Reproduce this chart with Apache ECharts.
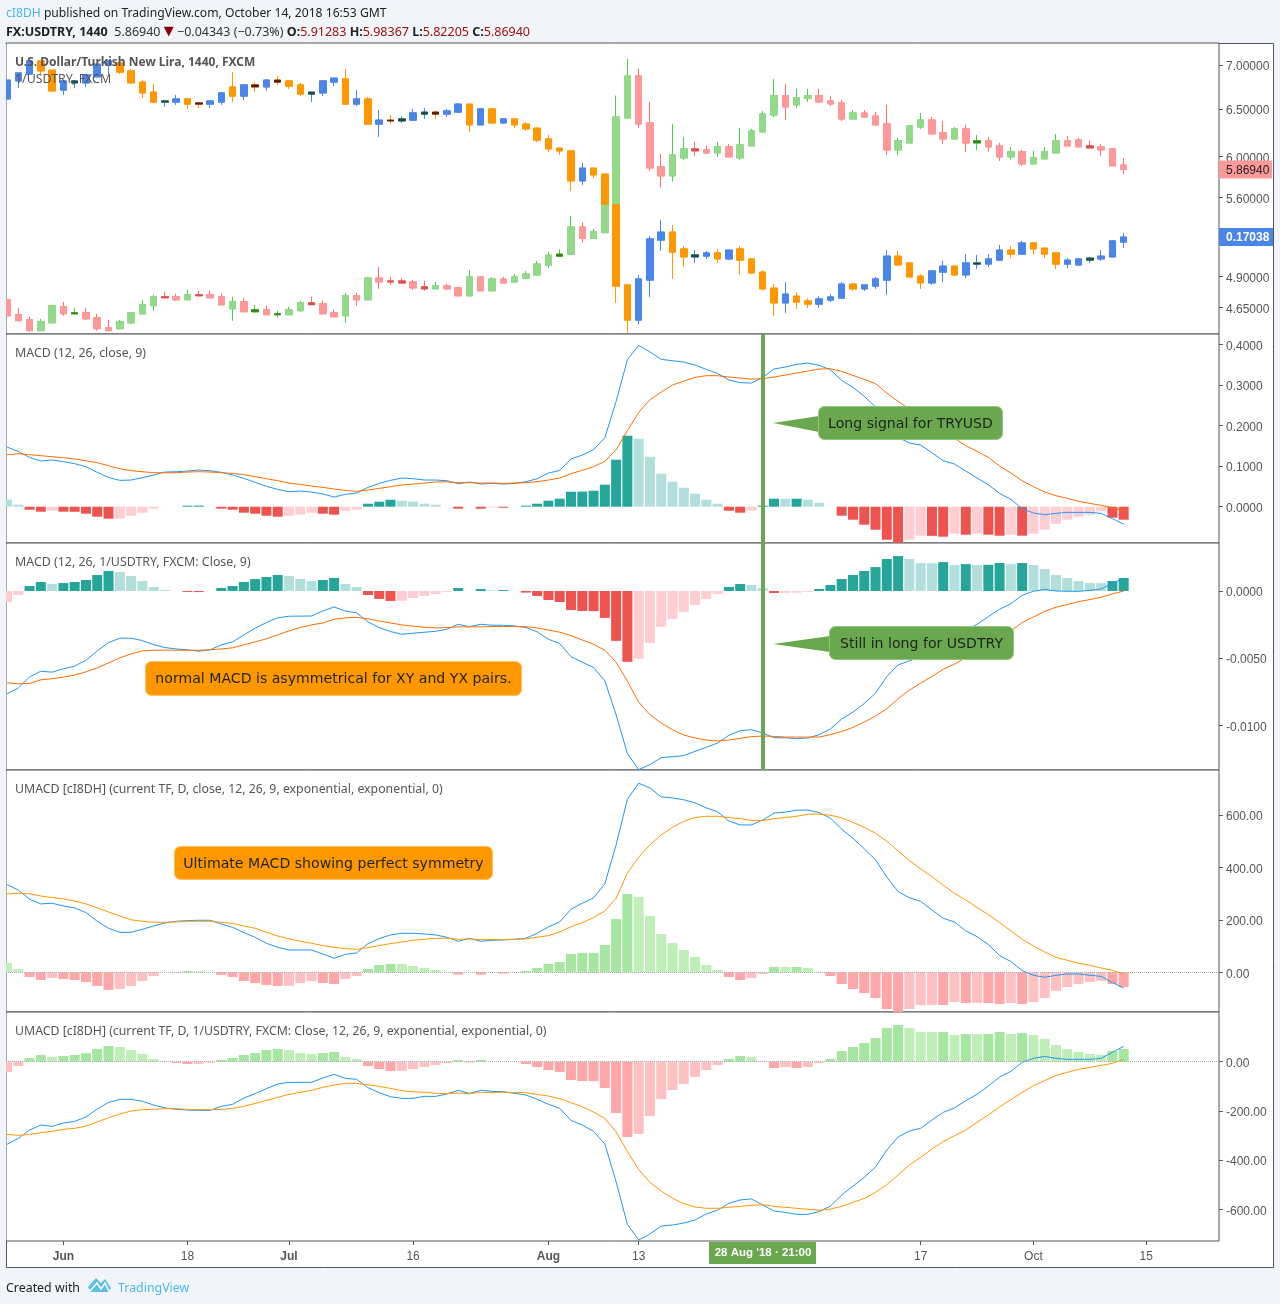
<!DOCTYPE html>
<html><head><meta charset="utf-8">
<script src="https://cdn.jsdelivr.net/npm/echarts@6/dist/echarts.min.js"></script>
<style>html,body{margin:0;padding:0;background:#F1F4F8}#c{width:1280px;height:1304px}</style>
</head><body><div id="c"></div>
<script>
const tickIndex=[5,16,25,36,48,56,81,91,101];
const tickLabels=['Jun','18','Jul','16','Aug','13','17','Oct','15'];
const crosshairIndex=67;
const crosshairLabel="28 Aug '18 · 21:00";

const usdOpen=[4.711,4.594,4.555,4.472,4.532,4.656,4.601,4.609,4.571,4.495,4.487,4.532,4.601,4.664,4.735,4.735,4.711,4.751,4.751,4.735,4.640,4.695,4.617,4.632,4.594,4.594,4.625,4.687,4.680,4.609,4.586,4.743,4.711,4.887,4.863,4.863,4.855,4.815,4.799,4.823,4.807,4.743,4.896,4.783,4.879,4.855,4.887,4.912,4.995,5.071,5.088,5.326,5.225,5.276,5.538,6.401,6.871,6.348,5.895,5.806,5.985,6.076,6.066,6.035,6.097,5.985,6.107,6.253,6.434,6.648,6.544,6.615,6.648,6.588,6.566,6.391,6.455,6.423,6.337,6.066,6.138,6.305,6.380,6.242,6.179,6.284,6.138,6.159,6.107,5.995,6.046,5.925,5.975,6.035,6.159,6.169,6.107,6.097,6.076,5.91283];
const usdClose=[4.586,4.548,4.472,4.540,4.664,4.601,4.609,4.563,4.487,4.472,4.540,4.609,4.672,4.735,4.727,4.711,4.751,4.743,4.727,4.672,4.695,4.617,4.632,4.594,4.601,4.632,4.687,4.672,4.601,4.578,4.743,4.711,4.887,4.855,4.855,4.847,4.807,4.799,4.823,4.799,4.743,4.896,4.783,4.879,4.847,4.896,4.920,5.004,5.080,5.088,5.326,5.225,5.285,5.547,6.412,6.871,6.337,5.885,5.806,6.015,6.076,6.056,6.035,6.097,5.995,6.117,6.263,6.444,6.648,6.522,6.626,6.648,6.577,6.555,6.391,6.455,6.412,6.327,6.066,6.159,6.316,6.380,6.232,6.179,6.284,6.138,6.159,6.097,5.995,6.046,5.925,5.985,6.046,6.159,6.107,6.097,6.086,6.066,5.905,5.8694];
const usdLow=[4.586,4.548,4.465,4.472,4.532,4.586,4.601,4.555,4.472,4.472,4.480,4.525,4.594,4.625,4.727,4.703,4.711,4.743,4.727,4.672,4.548,4.617,4.609,4.594,4.571,4.594,4.617,4.672,4.601,4.578,4.532,4.664,4.711,4.799,4.831,4.839,4.791,4.783,4.799,4.791,4.743,4.743,4.783,4.783,4.847,4.855,4.879,4.912,4.970,5.071,5.088,5.19,5.225,5.268,5.538,6.401,6.295,5.855,5.692,5.749,5.965,6.005,6.025,5.995,5.995,5.965,6.107,6.242,6.412,6.380,6.511,6.577,6.566,6.533,6.369,6.391,6.412,6.327,6.015,6.015,6.138,6.284,6.232,6.128,6.179,6.046,6.066,6.046,5.955,5.965,5.905,5.925,5.975,6.035,6.107,6.097,6.086,6.005,5.905,5.82205];
const usdHigh=[4.711,4.648,4.578,4.563,4.672,4.695,4.648,4.648,4.601,4.555,4.555,4.609,4.711,4.751,4.775,4.759,4.791,4.783,4.783,4.759,4.735,4.727,4.672,4.664,4.625,4.656,4.703,4.735,4.703,4.632,4.767,4.767,4.896,4.978,4.896,4.887,4.871,4.863,4.855,4.839,4.807,4.953,4.904,4.896,4.896,4.920,4.945,5.030,5.105,5.130,5.426,5.37,5.31,5.547,6.648,7.071,6.953,6.577,6.025,6.337,6.200,6.148,6.107,6.148,6.128,6.295,6.284,6.477,6.837,6.780,6.724,6.724,6.724,6.637,6.599,6.488,6.488,6.466,6.544,6.190,6.327,6.455,6.412,6.369,6.305,6.327,6.221,6.200,6.138,6.097,6.066,6.056,6.097,6.232,6.211,6.190,6.159,6.128,6.086,5.98367];

const tryOpen=[.2049,.2094,.2111,.2144,.2121,.2071,.2089,.2089,.2104,.2134,.2139,.2119,.2091,.2066,.2041,.2041,.2049,.2039,.2036,.2041,.2079,.2056,.2084,.2079,.2096,.2094,.2084,.2061,.2064,.2091,.2099,.2036,.2049,.1986,.1996,.1994,.1996,.2011,.2016,.2011,.2016,.2036,.1984,.2024,.1989,.1999,.1986,.1976,.1949,.1926,.1919,.1844,.1876,.1861,.1784,.1584,.1496,.1596,.1696,.1716,.1674,.1654,.1656,.1664,.1649,.1674,.1649,.1616,.1576,.1539,.1556,.1544,.1536,.1546,.1551,.1586,.1574,.1581,.1596,.1656,.1639,.1606,.1589,.1616,.1631,.1609,.1636,.1636,.1646,.1671,.1661,.1689,.1676,.1664,.1636,.1634,.1646,.1649,.1654,.1691];
const tryClose=[.2096,.2114,.2144,.2119,.2069,.2094,.2094,.2109,.2136,.2144,.2116,.2089,.2064,.2041,.2044,.2049,.2036,.2036,.2044,.2064,.2056,.2084,.2079,.2096,.2091,.2081,.2061,.2066,.2094,.2101,.2036,.2049,.1986,.1996,.1994,.1999,.2014,.2016,.2011,.2019,.2036,.1984,.2024,.1989,.1999,.1984,.1974,.1946,.1924,.1919,.1844,.1876,.1859,.1786,.1581,.1496,.1599,.1699,.1716,.1666,.1654,.1659,.1664,.1649,.1671,.1646,.1614,.1574,.1539,.1561,.1541,.1536,.1549,.1554,.1586,.1574,.1584,.1599,.1656,.1634,.1604,.1589,.1619,.1631,.1609,.1639,.1639,.1649,.1671,.1661,.1689,.1674,.1661,.1636,.1646,.1649,.1651,.1656,.1694,.17038];
const tryLow=[.2049,.2076,.2111,.2111,.2066,.2059,.2076,.2079,.2104,.2111,.2111,.2089,.2051,.2039,.2029,.2034,.2024,.2026,.2026,.2034,.2041,.2046,.2066,.2069,.2084,.2074,.2056,.2041,.2056,.2081,.2034,.2031,.1986,.1954,.1986,.1989,.1994,.1999,.1999,.2004,.2016,.1966,.1984,.1986,.1986,.1976,.1969,.1941,.1916,.1909,.1819,.1834,.1851,.1786,.1539,.1464,.1486,.1554,.1669,.1599,.1629,.1639,.1649,.1639,.1646,.1609,.1611,.1571,.1506,.1514,.1524,.1526,.1526,.1541,.1549,.1569,.1569,.1574,.1559,.1631,.1601,.1574,.1584,.1591,.1606,.1601,.1624,.1629,.1644,.1651,.1659,.1659,.1651,.1624,.1626,.1631,.1639,.1644,.1654,.1676];
const tryHigh=[.2096,.2114,.2144,.2144,.2121,.2094,.2096,.2109,.2136,.2144,.2139,.2124,.2096,.2086,.2044,.2059,.2051,.2041,.2044,.2066,.2116,.2086,.2091,.2099,.2106,.2094,.2089,.2066,.2096,.2101,.2124,.2071,.2054,.2021,.2009,.2006,.2024,.2026,.2019,.2024,.2039,.2036,.2026,.2026,.1999,.1999,.1991,.1976,.1959,.1926,.1919,.1889,.1876,.1861,.1784,.1584,.1609,.1706,.1746,.1734,.1681,.1671,.1669,.1674,.1671,.1681,.1649,.1621,.1586,.1591,.1566,.1551,.1556,.1561,.1591,.1589,.1584,.1604,.1671,.1669,.1639,.1611,.1621,.1644,.1631,.1661,.1659,.1661,.1684,.1681,.1694,.1689,.1676,.1664,.1651,.1649,.1654,.1671,.1696,.1714];

const macdHist=[.0172,.0049,-.0074,-.0123,-.0099,-.0123,-.0125,-.0172,-.0246,-.0296,-.0290,-.0222,-.0148,-.0049,0,0,.0025,.0027,0,-.0049,-.0074,-.0148,-.0172,-.0222,-.0246,-.0222,-.0197,-.0148,-.0172,-.0197,-.0099,-.0074,.0074,.0123,.0172,.0148,.0123,.0074,.0049,0,-.0049,0,-.0049,-.0016,-.0025,0,.0025,.0074,.0148,.0197,.0369,.0372,.0394,.0542,.1158,.1749,.1675,.1232,.0813,.0616,.0468,.0320,.0172,.0074,-.0099,-.0148,-.0099,.0025,.0197,.0195,.0197,.0172,.0099,0,-.0222,-.0320,-.0443,-.0567,-.0813,-.0887,-.0813,-.0714,-.0718,-.0739,-.0665,-.0690,-.0665,-.0690,-.0714,-.0690,-.0714,-.0665,-.0567,-.0419,-.0320,-.0246,-.0197,-.0115,-.0271,-.0320];
const macdLine=[.147,.136,.1215,.1125,.115,.111,.106,.0985,.0846,.0722,.0649,.0657,.0714,.078,.0854,.0862,.0878,.0903,.0887,.0846,.078,.0698,.0599,.0501,.0427,.0369,.0386,.0361,.0312,.0238,.0304,.0337,.0476,.0575,.0649,.0706,.069,.0657,.0657,.064,.0567,.0608,.0558,.0575,.0558,.0575,.0616,.069,.0829,.0895,.1174,.1273,.1404,.170,.2594,.3621,.3974,.381,.3629,.3596,.3563,.3489,.3383,.3284,.312,.3054,.3046,.3186,.3391,.344,.3506,.3539,.3481,.3374,.3112,.2939,.2718,.2455,.2085,.1708,.1568,.1519,.133,.1133,.1051,.0878,.0706,.0542,.0328,.0181,-.0049,-.0156,-.0197,-.0164,-.014,-.014,-.014,-.0164,-.0296,-.0427];
const macdSignal=[.1281,.1305,.1281,.1256,.1232,.1207,.1174,.1133,.1084,.101,.0936,.0887,.0862,.0837,.0837,.0837,.0854,.0862,.0854,.0837,.0821,.0788,.0739,.069,.064,.0583,.055,.0509,.0476,.0435,.0402,.0378,.0411,.0452,.0493,.0534,.0558,.0583,.0608,.0616,.0591,.0591,.0583,.0583,.0575,.0583,.0591,.0616,.0657,.0706,.0813,.0895,.0985,.1117,.1404,.1872,.2323,.2635,.2824,.2997,.3095,.3186,.3227,.3227,.3194,.3169,.3144,.3153,.3194,.3243,.3292,.3342,.3391,.3399,.3333,.3235,.3136,.303,.28,.2594,.2406,.2225,.2053,.1872,.1691,.1502,.1363,.1215,.1002,.0829,.064,.0493,.0361,.0271,.0205,.0131,.0082,.0033,-.0025,-.0099];

const invHist=[-.00082,-.0003,.00037,.00067,.00052,.00059,.00067,.00082,.00119,.00149,.00141,.00111,.00074,.0003,.00007,0,-.00007,-.00008,0,.00022,.00037,.00067,.00089,.00104,.00119,.00111,.00089,.00074,.00082,.00097,.00052,.0003,-.0003,-.00059,-.00074,-.00073,-.00052,-.00037,-.00022,-.00007,.00022,0,.00015,.00005,.00007,0,-.00012,-.00037,-.00067,-.00082,-.00141,-.00149,-.0015,-.002,-.00371,-.00527,-.00505,-.00386,-.00267,-.00208,-.00156,-.00104,-.00059,-.00022,.0003,.00052,.00045,.00022,-.00015,-.00014,-.00013,-.00007,.00015,.00045,.00089,.00119,.00149,.00178,.00238,.0026,.00238,.00208,.00207,.00215,.00193,.002,.00193,.00195,.00208,.002,.00208,.00193,.00163,.00119,.00097,.00074,.00059,.00058,.00074,.00097];
const invLine=[-.00765,-.00723,-.00639,-.00597,-.00604,-.00579,-.00559,-.00515,-.00446,-.00384,-.00351,-.00351,-.00369,-.00399,-.00421,-.00431,-.00438,-.00448,-.00438,-.00401,-.00379,-.00327,-.00277,-.00235,-.002,-.00188,-.00187,-.00186,-.00149,-.00119,-.00149,-.00163,-.0023,-.00272,-.00302,-.00322,-.00314,-.00307,-.003,-.00285,-.00248,-.00265,-.00248,-.00255,-.00255,-.0026,-.00272,-.00304,-.00359,-.00391,-.00488,-.0053,-.00569,-.00668,-.00921,-.0121,-.01329,-.01292,-.0124,-.01233,-.01225,-.01193,-.01163,-.01131,-.01074,-.0104,-.01032,-.01057,-.01092,-.01092,-.01099,-.01094,-.01069,-.01027,-.00953,-.00901,-.00837,-.0076,-.00636,-.0055,-.0052,-.00488,-.00438,-.00389,-.00339,-.00295,-.00248,-.00191,-.00136,-.00094,-.00032,-.00002,.00012,0,-.00002,-.00003,.00005,.00015,.00057,.00094];
const invSignal=[-.00683,-.00691,-.00688,-.00661,-.00653,-.00641,-.00626,-.00601,-.00572,-.00535,-.00498,-.00468,-.00446,-.00441,-.0044,-.00441,-.00441,-.00441,-.00438,-.00431,-.00423,-.00401,-.00379,-.00356,-.00327,-.00297,-.00272,-.00252,-.00238,-.0021,-.002,-.00196,-.00208,-.00223,-.00238,-.00252,-.00262,-.0027,-.00275,-.00272,-.00267,-.00267,-.00267,-.00265,-.00264,-.00265,-.00265,-.00275,-.0029,-.00307,-.00332,-.00364,-.00396,-.00441,-.0053,-.00671,-.00827,-.00921,-.00983,-.01032,-.01072,-.01094,-.01109,-.01116,-.01109,-.01097,-.01084,-.01079,-.01082,-.01087,-.01087,-.01087,-.01087,-.01069,-.01045,-.01015,-.00975,-.00931,-.00876,-.00802,-.00738,-.00686,-.00636,-.00582,-.00545,-.00495,-.00446,-.00396,-.00347,-.00297,-.00235,-.00193,-.00151,-.00121,-.00101,-.00079,-.00064,-.00047,-.00022,0];

const umacdHist=[35.6,12.7,-17.8,-29.3,-21.6,-25.4,-29.3,-36.9,-52,-67,-63.6,-52.2,-33,-14,-1,1.5,5,4.5,1.3,-10,-17.8,-33,-40.7,-48,-52,-51.5,-40.7,-33,-40.7,-44.5,-25.4,-14,12.7,28,31.8,31.5,24,16.5,9,1.3,-9,.5,-9,0,-5,.3,5,16.5,31.8,39.4,70,73.8,74,104,203.5,299,287.5,215,146,112,85,58.5,28,8.9,-17.8,-29.3,-21.6,-6.4,20.4,20.2,20.4,16.5,1.3,-14,-44.5,-63.6,-78.9,-98,-140,-151,-140,-124.7,-124.5,-124.7,-113,-117,-116.8,-117,-120.8,-117,-120.8,-113,-98,-71,-56,-44.5,-37,-33,-44.5,-56];
const umacdLine=[334.5,314,278.6,260.8,263.3,253,245.5,227.7,194.6,167.9,152.6,152.6,164,176.8,188.3,194.6,197.2,198.4,198.4,184.4,171.7,151.4,133.6,110.7,95.4,85.2,85.2,85.2,70,53.4,68.7,73.8,109.4,128.5,142.5,148.8,148.8,146.3,142.5,133.6,118.3,129.7,118.3,122.1,123.4,125.9,129.7,148.8,173,192,240.4,263.3,283.7,337,486,660,721,703,669,665,658,646,627,612,577,562,562,581,607,611,618,619,609,588,546,511,471,429,363,308,284,271,238,206,192,158,136,106,64,41,6.4,-11.4,-19,-11.4,-6.4,-6.4,-11.4,-15.3,-39.4,-59.8];
const umacdSignal=[299,301.5,299,291,285,280,272,261,245.5,230,215,200,194.6,190.8,190.8,192,194.6,194.6,194.6,190.8,185.7,176.8,167.9,152.6,138.6,127.2,118.3,110.7,101.8,95.4,90.3,87.8,94.1,101.8,109.4,115.8,122.1,125.9,129.7,129.7,125.9,127.2,124.7,124.7,124.7,125.9,127.2,133.6,140,153.9,174,189.5,208.6,234,282,378,439,486,524,553,576,590,595,595,590,586,579,579,586,590,595,603,603,599,589,572,553,530,500,463,426,394,365,332,301,276,247,220,189.5,158,126,100.5,77.6,57,45.8,34.3,26.7,16.5,7.6,-6.4];

const uinvHist=[-42,-17.6,14.9,27,19,23,27.1,35,51.5,63.7,59.6,47.4,31.2,10.8,1,-5,-9.5,-9,-4.5,6.8,14.9,27.1,35.2,47.4,51.5,47.4,35.2,31.2,35.2,39.3,19,10.8,-17.6,-29.8,-37.9,-37.5,-29.8,-21.7,-13.6,-5.4,6.8,-3,6.8,0,0,0,-9.5,-21.7,-33.9,-42,-74.5,-78.6,-79,-107,-208.7,-306,-294,-221,-152,-115,-91,-62,-34,-13.6,10.8,23,19,-1,-25.7,-21.7,-25.7,-21.7,-5.4,10.8,43.4,59.6,75.9,96.2,136.9,149,136.9,120.6,120.4,120.6,108.4,112.5,112.3,112.5,120.6,112.5,116.5,108.4,92.1,67.8,51.5,39.3,31.2,27.1,43.4,51.5];
const uinvLine=[-336,-311.7,-277.8,-257.5,-262.9,-249.3,-242.5,-225,-192.4,-165.3,-153,-153,-161,-176,-188,-193.8,-196.5,-197.8,-197.8,-181.6,-173.4,-147.7,-130,-109.8,-90.8,-84,-84,-84,-66.4,-51.5,-67.8,-71.8,-105.7,-126,-142.3,-149,-149,-141,-141,-131.4,-116.5,-128.7,-116.5,-120.6,-122,-128.7,-135.5,-153,-173.4,-189.7,-238.5,-257.5,-283.2,-334.7,-487.8,-661,-725,-700.5,-668,-664,-655.8,-643.6,-619,-603,-576,-562,-558,-582.7,-607,-612.5,-620.6,-620.6,-609.8,-586.7,-542,-505.4,-470,-428,-359,-306,-281.8,-271,-237,-206,-188,-158.5,-132.8,-99,-62.3,-39.3,-2.7,13.6,21.7,13.6,9.5,9.5,9.5,13.6,38,62.3];
const uinvSignal=[-295.4,-299.5,-295.4,-288.6,-283.2,-275,-271,-261.5,-245.3,-227.6,-212.7,-200.5,-195,-193.8,-191,-191,-193.8,-195,-195,-193.8,-189.7,-181.6,-169.4,-157.2,-145,-132.8,-124.7,-116.5,-104.3,-94.9,-88,-88,-93.5,-100.3,-108.4,-117.9,-122,-124.7,-128.7,-130,-127.4,-130,-124.7,-124.7,-124.7,-124.7,-126,-132.8,-139.6,-150.5,-166.7,-183,-204.6,-230.4,-284.6,-365.9,-437.7,-490.5,-525.7,-555.6,-577,-590.8,-596,-596,-592,-588,-584,-581.3,-588,-592,-596,-600,-604,-599,-588,-572,-555.6,-531,-500,-460.7,-420,-389,-355,-325,-301,-278,-246.6,-216.8,-183,-154.5,-124.7,-97.6,-77.2,-55.6,-43.4,-31.2,-23,-14.9,-6.8,9.5];

const usdTicks=[7,6.5,6,5.6,4.9,4.65];
const macdTicks=[.4,.3,.2,.1,0];
const invTicks=[0,-.005,-.01];
const umacdTicks=[600,400,200,0];
const uinvTicks=[0,-200,-400,-600];

const GREY='#555', BG='#F1F4F8', LABEL='"Liberation Sans",Arial,sans-serif', UI='"Noto Sans",sans-serif', NOTE='"DejaVu Sans",sans-serif';
const panes=[[43,291],[334,209],[543,227],[770,242],[1012,229]];
const chart=echarts.init(document.getElementById('c'));

const grids=panes.map(p=>({left:6,width:1213,top:p[0],height:p[1],show:true,backgroundColor:'#fff',borderColor:GREY,borderWidth:1}));
const xAxes=panes.map((p,k)=>({type:'value',gridIndex:k,min:-.0887,max:107.45,show:k===4,splitLine:{show:false},axisLine:{show:false,onZero:false},
  axisTick:{show:k===4,length:4,lineStyle:{color:GREY},customValues:tickIndex},
  axisLabel:{show:k===4,customValues:tickIndex,margin:10,fontFamily:LABEL,fontSize:12,color:GREY,
    formatter:v=>{const s=tickLabels[tickIndex.indexOf(v)];return /^[JA]/.test(s)?'{b|'+s+'}':s;},
    rich:{b:{fontFamily:LABEL,fontSize:12,fontWeight:'bold',color:GREY}}}}));
function yAx(grid,min,max,ticks,digits,extra){return Object.assign({type:'value',gridIndex:grid,position:'right',min,max,scale:true,splitLine:{show:false},axisLine:{show:false,onZero:false},
  axisTick:{show:true,length:4,lineStyle:{color:GREY},customValues:ticks},
  axisLabel:{customValues:ticks,margin:7,fontFamily:LABEL,fontSize:12,color:GREY,formatter:v=>'{v|'+v.toFixed(digits)+'}',
    rich:{v:{fontFamily:LABEL,fontSize:12,color:GREY,padding:[4,0,0,0]}}}},extra||{});}
const yAxes=[
  yAx(0,4.447,7.264,usdTicks,5,{type:'log',logBase:Math.E}),
  {type:'value',gridIndex:0,min:.14613,max:.21888,show:false,scale:true,splitLine:{show:false}},
  yAx(1,-.0894,.4254,macdTicks,4),
  yAx(2,-.01332,.003571,invTicks,4),
  yAx(3,-151.4,771.5,umacdTicks,2),
  yAx(4,-728.9,202,uinvTicks,2)
];

function candles(name,o,c,l,h,yi,upBody,dnBody,upWick,dnWick,thinAt,thinUp,thinDn){
  const sty=(up,dn)=>({color:up,color0:dn,borderColor:up,borderColor0:dn,borderWidth:1});
  const wicks={name:name,type:'candlestick',xAxisIndex:0,yAxisIndex:yi,barWidth:7,clip:true,animation:false,silent:true,itemStyle:sty(upWick,dnWick),
    encode:{x:0,y:[1,2,3,4]},data:o.map((v,i)=>[i,v,c[i],l[i],h[i]])};
  const bodies={name:name+' body',type:'candlestick',xAxisIndex:0,yAxisIndex:yi,barWidth:7,clip:true,animation:false,silent:true,itemStyle:sty(upBody,dnBody),
    encode:{x:0,y:[1,2,3,4]},data:o.map((v,i)=>{
      const lo=Math.min(v,c[i]),hi=Math.max(v,c[i]);
      const item={value:[i,v,c[i],lo,hi]};
      if(thinAt(lo,hi)){const col=c[i]>=v?thinUp:thinDn;item.itemStyle={color:col,color0:col,borderColor:col,borderColor0:col};}
      return item;})};
  return [wicks,bodies];
}
function shade(v,prev,dUp,lUp,lDn,dDn){
  if(prev===undefined) return v>=0?lUp:lDn;
  if(v>=0) return v>prev?dUp:lUp;
  return v>prev?lDn:dDn;
}
function pane(k,hist,line,signal,cols,sigColor,opts){
  const yi=k+1;
  const out=[
    {name:'hist'+k,type:'bar',xAxisIndex:k,yAxisIndex:yi,barWidth:10,clip:true,animation:false,silent:true,
      data:hist.map((v,i)=>({value:[i,v],itemStyle:{color:shade(v,hist[i-1],cols[0],cols[1],cols[2],cols[3])}}))},
    {name:'macd'+k,type:'line',xAxisIndex:k,yAxisIndex:yi,showSymbol:false,animation:false,silent:true,lineStyle:{color:'#2196F3',width:1},data:line.map((v,i)=>[i,v]),z:3},
    {name:'signal'+k,type:'line',xAxisIndex:k,yAxisIndex:yi,showSymbol:false,animation:false,silent:true,lineStyle:{color:sigColor,width:1},data:signal.map((v,i)=>[i,v]),z:3}
  ];
  if(opts.zero) out[0].markLine={silent:true,symbol:'none',animation:false,label:{show:false},lineStyle:{color:'#aaa',width:1,type:'dotted'},data:[{yAxis:0}]};
  if(opts.cross) out[2].markLine={silent:true,symbol:'none',animation:false,label:{show:false},lineStyle:{color:'#6AA84F',width:4,type:'solid'},data:[{xAxis:crosshairIndex}],z:6};
  return out;
}
const TV=['#26A69A','#B2DFDB','#FFCDD2','#EF5350'], UM=['#A5E6A0','#BFEEB9','#FFC0C2','#FFA6A8'];
const series=[]
 .concat(candles('USDTRY',usdOpen,usdClose,usdLow,usdHigh,0,'#93D98A','#FF9999','#4CCB4C','#FF6B6B',(a,b)=>Math.log(b/a)<.0038,'#2E8B12','#D9534A'))
 .concat(candles('1/USDTRY',tryOpen,tryClose,tryLow,tryHigh,1,'#4A86E8','#FF9800','#4A86E8','#FF9800',(a,b)=>b-a<.00055,'#1F4F3F','#5A1A10'))
 .concat(pane(1,macdHist,macdLine,macdSignal,TV,'#FF6D00',{cross:true}))
 .concat(pane(2,invHist,invLine,invSignal,TV,'#FF6D00',{cross:true}))
 .concat(pane(3,umacdHist,umacdLine,umacdSignal,UM,'#FF9800',{zero:true}))
 .concat(pane(4,uinvHist,uinvLine,uinvSignal,UM,'#FF9800',{zero:true}));

function txt(x,y,text,font,size,color,extra){return {type:'text',x,y,z:100,silent:true,style:Object.assign({text,fontFamily:font,fontSize:size,fill:color,textVerticalAlign:'middle',textAlign:'left'},extra||{})};}
function bubble(x0,y0,x1,y1,col,edge,label,tip){
  const els=[];
  if(tip) els.push({type:'polygon',z:90,silent:true,shape:{points:[[tip[0],tip[1]],[x0+1,tip[2]],[x0+1,tip[3]]]},style:{fill:col}});
  els.push({type:'rect',z:91,silent:true,shape:{x:x0+.5,y:y0+.5,width:x1-x0-1,height:y1-y0-1,r:6},style:{fill:col,stroke:edge,lineWidth:1}});
  els.push(txt((x0+x1)/2,(y0+y1)/2+1,label,NOTE,14.1,'#1c2418',{textAlign:'center'}));
  return els;
}
const H=12.4;
function staticGraphic(){return [
  {type:'rect',z:-1,silent:true,shape:{x:6.5,y:43.5,width:1267,height:1224},style:{fill:'#fff',stroke:GREY,lineWidth:1}},
  {type:'rect',z:50,silent:true,shape:{x:0,y:44,width:6,height:1223},style:{fill:BG}},
  txt(6,14,'{a|cI8DH}{b| published on TradingView.com, October 14, 2018 16:53 GMT}',UI,12.15,'#222',{rich:{a:{fontFamily:UI,fontSize:12.15,fill:'#4DB8E8'},b:{fontFamily:UI,fontSize:12.15,fill:'#222'}}}),
  txt(6,32,'{b|FX:USDTRY, 1440}{n|  5.86940 }{r|▼}{n| −0.04343 (−0.73%) }{b|O:}{v|5.91283 }{b|H:}{v|5.98367 }{b|L:}{v|5.82205 }{b|C:}{v|5.86940}',UI,12.5,'#222',{rich:{
    b:{fontFamily:UI,fontSize:12.5,fontWeight:'bold',fill:'#222'},n:{fontFamily:UI,fontSize:12.5,fill:'#333'},v:{fontFamily:UI,fontSize:12.5,fill:'#A01010'},r:{fontFamily:NOTE,fontSize:13,fill:'#8B0000'}}}),
  txt(15,63,'U.S. Dollar/Turkish New Lira, 1440, FXCM',UI,12,GREY,{fontWeight:'bold'}),
  txt(15,79,'1/USDTRY, FXCM',UI,H,GREY),
  txt(15,353,'MACD (12, 26, close, 9)',UI,H,GREY),
  txt(15,562,'MACD (12, 26, 1/USDTRY, FXCM: Close, 9)',UI,H,GREY),
  txt(15,789,'UMACD [cI8DH] (current TF, D, close, 12, 26, 9, exponential, exponential, 0)',UI,12.3,GREY),
  txt(15,1031,'UMACD [cI8DH] (current TF, D, 1/USDTRY, FXCM: Close, 12, 26, 9, exponential, exponential, 0)',UI,12.3,GREY),
  ...bubble(818,406,1003,440,'#6AA84F','#93C47D','Long signal for TRYUSD',[773,423,416,432]),
  ...bubble(829,626,1014,660,'#6AA84F','#93C47D','Still in long for USDTRY',[773,644,636,652]),
  ...bubble(145,661,522,696,'#FF9800','#FFC266','normal MACD is asymmetrical for XY and YX pairs.'),
  ...bubble(174,846,493,880,'#FF9800','#FFC266','Ultimate MACD showing perfect symmetry'),
  {type:'rect',z:92,silent:true,shape:{x:709,y:1242,width:107,height:22},style:{fill:'#6AA84F'}},
  txt(763,1253,crosshairLabel,LABEL,11.5,'#fff',{textAlign:'center',fontWeight:'bold'}),
  txt(6,1288,'Created with',UI,H,'#222'),
  {type:'polygon',z:90,silent:true,shape:{points:[[88,1287],[96,1278],[101,1283],[105,1279],[111,1288],[108,1292],[91,1292]]},style:{fill:'#5BC0E8'}},
  {type:'polyline',z:91,silent:true,shape:{points:[[90,1291],[97,1283],[101,1289],[105,1283],[109,1291]]},style:{fill:'none',stroke:'#fff',lineWidth:1.5}},
  txt(118,1288,'TradingView',UI,H,'#4DB8E8')
];}
chart.setOption({animation:false,backgroundColor:BG,grid:grids,xAxis:xAxes,yAxis:yAxes,series,graphic:staticGraphic()});

const lastUsd=usdClose[usdClose.length-1], lastTry=tryClose[tryClose.length-1];
const yUsd=chart.convertToPixel({yAxisIndex:0},lastUsd), yTry=chart.convertToPixel({yAxisIndex:1},lastTry);
chart.setOption({graphic:staticGraphic().concat([
  {type:'rect',z:95,silent:true,shape:{x:1219,y:yUsd-9,width:53,height:18},style:{fill:'#FF9999'}},
  txt(1226,yUsd+1,lastUsd.toFixed(5),LABEL,12,'#222'),
  {type:'rect',z:95,silent:true,shape:{x:1219,y:yTry-9,width:54,height:18},style:{fill:'#4A86E8'}},
  txt(1226,yTry+1,lastTry.toFixed(5),LABEL,12,'#fff',{fontWeight:'bold'})
])});
</script></body></html>
